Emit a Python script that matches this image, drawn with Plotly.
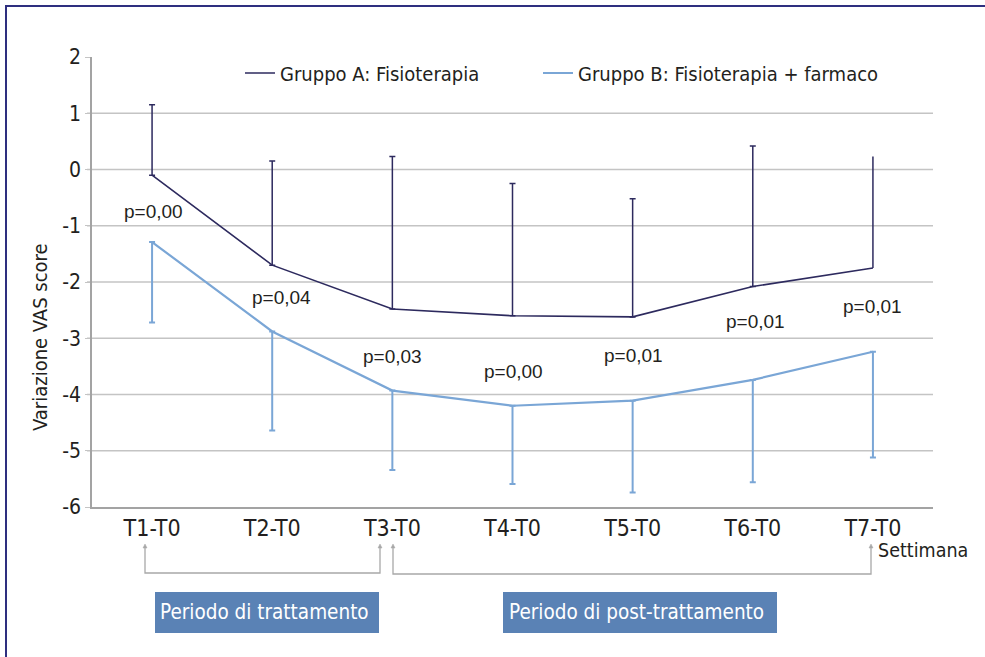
import plotly.graph_objects as go

# Weekly change in VAS score versus baseline for the two treatment groups
CATEGORIES = ["T1-T0", "T2-T0", "T3-T0", "T4-T0", "T5-T0", "T6-T0", "T7-T0"]
GROUP_A_MEAN = [-0.10, -1.70, -2.48, -2.60, -2.62, -2.08, -1.75]
GROUP_A_SD = [1.25, 1.85, 2.71, 2.35, 2.10, 2.50, 1.98]
GROUP_B_MEAN = [-1.29, -2.88, -3.93, -4.20, -4.11, -3.74, -3.24]
GROUP_B_SD = [1.43, 1.76, 1.41, 1.39, 1.63, 1.82, 1.88]
P_VALUES = ["p=0,00", "p=0,04", "p=0,03", "p=0,00", "p=0,01", "p=0,01", "p=0,01"]
Y_TICKS = [2, 1, 0, -1, -2, -3, -4, -5, -6]
Y_TICK_TEXT = ["2", "1", "0", "-1", "-2", "-3", "-4", "-5", "-6"]

# label placement for the p-values (data units / pixel nudges)
P_LABEL_Y = [-0.75, -2.28, -3.33, -3.59, -3.31, -2.70, -2.44]
P_LABEL_DX = [1, 9, 0, 1, 1, 3, 0]

W, H = 985, 657
L, R, T, B = 92, 933, 57, 507

COND = "DejaVu Sans Condensed, Liberation Sans, sans-serif"
REG = "Liberation Sans, Arial, sans-serif"
TXT = "#231f20"
COL_A = "#2d2a5e"
COL_B = "#7aa6d6"
GRID = "#c4c4c4"
AXIS = "#a3a3a3"
BRACKET = "#a8a8a8"
BOX = "#5a82b5"
FRAME = "#2e2f7f"


def px(x):
    return (x - L) / (R - L)


def py(y):
    return (B - y) / (B - T)


fig = go.Figure()

# Group A: error bars upward only (last point drawn without a cap)
fig.add_trace(go.Scatter(
    x=CATEGORIES, y=GROUP_A_MEAN, mode="lines",
    name="Gruppo A: Fisioterapia", legend="legend",
    line=dict(color=COL_A, width=1.6),
))
fig.add_trace(go.Scatter(
    x=CATEGORIES[:-1], y=GROUP_A_MEAN[:-1], mode="markers",
    marker=dict(size=1, color="rgba(0,0,0,0)"), showlegend=False, hoverinfo="skip",
    error_y=dict(type="data", symmetric=False, array=GROUP_A_SD[:-1],
                 arrayminus=[0] * (len(CATEGORIES) - 1),
                 color=COL_A, thickness=1.5, width=3),
))
fig.add_trace(go.Scatter(
    x=CATEGORIES[-1:], y=GROUP_A_MEAN[-1:], mode="markers",
    marker=dict(size=1, color="rgba(0,0,0,0)"), showlegend=False, hoverinfo="skip",
    error_y=dict(type="data", symmetric=False, array=GROUP_A_SD[-1:], arrayminus=[0],
                 color=COL_A, thickness=1.5, width=0),
))

# Group B: error bars downward only
fig.add_trace(go.Scatter(
    x=CATEGORIES, y=GROUP_B_MEAN, mode="lines",
    name="Gruppo B: Fisioterapia + farmaco", legend="legend2",
    line=dict(color=COL_B, width=2.2),
    error_y=dict(type="data", symmetric=False, array=[0] * len(CATEGORIES),
                 arrayminus=GROUP_B_SD, color=COL_B, thickness=2, width=3),
))

shapes = []
# horizontal gridlines (none on the top edge)
for v in Y_TICKS:
    if v in (max(Y_TICKS), min(Y_TICKS)):
        continue
    shapes.append(dict(type="line", xref="paper", yref="y", x0=px(87), x1=1, y0=v, y1=v,
                       line=dict(color=GRID, width=1.5), layer="below"))

# outer frame
shapes.append(dict(type="rect", xref="paper", yref="paper",
                   x0=px(6), x1=px(W + 10), y0=py(6), y1=py(H + 10),
                   line=dict(color=FRAME, width=2)))

# period brackets under the x axis, with small arrowheads on top
for x0, x1, yb in [(145, 380, 573), (393, 871, 574)]:
    shapes.append(dict(type="path", xref="paper", yref="paper",
                       path=f"M {px(x0)},{py(547)} L {px(x0)},{py(yb)} L {px(x1)},{py(yb)} L {px(x1)},{py(547)}",
                       line=dict(color=BRACKET, width=1.3)))
    for xa in (x0, x1):
        shapes.append(dict(type="path", xref="paper", yref="paper",
                           path=f"M {px(xa - 2)},{py(548)} L {px(xa)},{py(544)} L {px(xa + 2)},{py(548)} Z",
                           fillcolor=BRACKET, line=dict(color=BRACKET, width=0.5)))

# coloured period boxes
for x0, x1 in [(155, 379), (503, 777)]:
    shapes.append(dict(type="rect", xref="paper", yref="paper",
                       x0=px(x0), x1=px(x1), y0=py(633), y1=py(592),
                       fillcolor=BOX, line=dict(width=0)))

annotations = []
for i, (cat, txt) in enumerate(zip(CATEGORIES, P_VALUES)):
    annotations.append(dict(x=cat, y=P_LABEL_Y[i], xref="x", yref="y", text=txt,
                            showarrow=False, xshift=P_LABEL_DX[i],
                            xanchor="center", yanchor="middle",
                            font=dict(family=REG, size=19, color=TXT)))

annotations += [
    dict(x=px(40), y=py(337), xref="paper", yref="paper", text="Variazione VAS score",
         textangle=-90, showarrow=False, xanchor="center", yanchor="middle",
         font=dict(family=COND, size=20, color=TXT)),
    dict(x=px(923), y=py(550), xref="paper", yref="paper", text="Settimana",
         showarrow=False, xanchor="center", yanchor="middle",
         font=dict(family=COND, size=19.5, color=TXT)),
    dict(x=px(158), y=py(612), xref="paper", yref="paper", text="Periodo di trattamento",
         xanchor="left", yanchor="middle", showarrow=False,
         font=dict(family=COND, size=20.5, color="white")),
    dict(x=px(507), y=py(612), xref="paper", yref="paper", text="Periodo di post-trattamento",
         xanchor="left", yanchor="middle", showarrow=False,
         font=dict(family=COND, size=20.5, color="white")),
]

legend_style = dict(orientation="h", xanchor="left", yanchor="middle",
                    font=dict(family=COND, size=20, color=TXT),
                    itemwidth=30, bgcolor="rgba(0,0,0,0)")

fig.update_layout(
    width=W, height=H,
    margin=dict(l=L, r=W - R, t=T, b=H - B, pad=0),
    paper_bgcolor="white", plot_bgcolor="white",
    showlegend=True,
    legend=dict(x=px(240), y=py(73), **legend_style),
    legend2=dict(x=px(538), y=py(73), **legend_style),
    xaxis=dict(type="category", categoryorder="array", categoryarray=CATEGORIES,
               range=[-0.5, len(CATEGORIES) - 0.5], showgrid=False, zeroline=False,
               showline=True, linecolor=AXIS, linewidth=1.5, ticks="",
               tickfont=dict(family=COND, size=23, color=TXT)),
    yaxis=dict(range=[min(Y_TICKS), max(Y_TICKS)], tickvals=Y_TICKS, ticktext=Y_TICK_TEXT,
               showgrid=False, zeroline=False, showline=True, linecolor=AXIS, linewidth=1.5,
               ticks="outside", ticklen=5, tickcolor=GRID,
               tickfont=dict(family=COND, size=21, color=TXT)),
    shapes=shapes,
    annotations=annotations,
)

fig.write_html("out.html")
